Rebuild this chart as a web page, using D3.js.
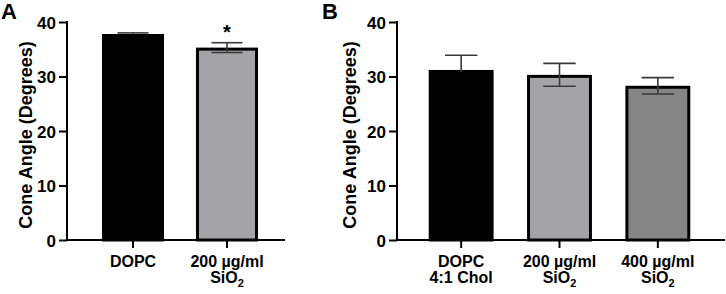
<!DOCTYPE html>
<html>
<head>
<meta charset="utf-8">
<script src="https://cdn.jsdelivr.net/npm/d3@7"></script>
<style>
  body { margin: 0; background: #fff; }
  svg text { font-family: "Liberation Sans", Arial, sans-serif; font-weight: bold; fill: #000; }
</style>
</head>
<body>
<svg id="chart" width="726" height="294"></svg>
<script>
// Panel A
const catsA = ["DOPC", "200 µg/ml SiO2"];
const labelsA = [["DOPC"], ["200 µg/ml", "SiO|2"]];
const valsA = [37.8, 35.3];
const errA = [0.2, 0.9];
const fillA = ["#000000", "#a4a3a8"];
const starsA = ["", "*"];

// Panel B
const catsB = ["DOPC 4:1 Chol", "200 µg/ml SiO2", "400 µg/ml SiO2"];
const labelsB = [["DOPC", "4:1 Chol"], ["200 µg/ml", "SiO|2"], ["400 µg/ml", "SiO|2"]];
const valsB = [31.2, 30.3, 28.3];
const errB = [2.7, 2.1, 1.5];
const fillB = ["#000000", "#a4a3a8", "#858585"];

const yTicks = [0, 10, 20, 30, 40];
const yTitle = "Cone Angle (Degrees)";

const svg = d3.select("#chart");

function drawPanel(cfg) {
  const g = svg.append("g");
  const y = d3.scaleLinear().domain([0, 40]).range([240, 22]);
  const x = d3.scaleBand().domain(cfg.cats).range(cfg.bandRange).paddingInner(0.34).paddingOuter(0.17);
  const bw = x.bandwidth();

  // bars
  g.selectAll("rect.bar").data(cfg.cats).join("rect")
    .attr("class", "bar")
    .attr("x", (d) => x(d) + 1.5)
    .attr("width", bw - 3)
    .attr("y", (d, i) => y(cfg.vals[i]) + 1.5)
    .attr("height", (d, i) => y(0) - y(cfg.vals[i]) - 1.5)
    .attr("fill", (d, i) => cfg.fills[i])
    .attr("stroke", "#000")
    .attr("stroke-width", 3);

  // error bars (inside a black bar they disappear, so draw them black there)
  const eg = g.selectAll("g.err").data(cfg.cats).join("g").attr("class", "err")
    .attr("stroke", (d, i) => cfg.fills[i] === "#000000" ? "#000" : "#3a3a3a")
    .attr("stroke-width", 1.6);
  eg.append("line")
    .attr("x1", (d) => x(d) + bw / 2).attr("x2", (d) => x(d) + bw / 2)
    .attr("y1", (d, i) => y(cfg.vals[i] - cfg.errs[i]))
    .attr("y2", (d, i) => y(cfg.vals[i] + cfg.errs[i]))
    .attr("stroke", "#3a3a3a");
  eg.append("line")
    .attr("x1", (d) => x(d) + bw / 4).attr("x2", (d) => x(d) + bw * 3 / 4)
    .attr("y1", (d, i) => y(cfg.vals[i] + cfg.errs[i]))
    .attr("y2", (d, i) => y(cfg.vals[i] + cfg.errs[i]))
    .attr("stroke", "#3a3a3a");
  eg.append("line")
    .attr("x1", (d) => x(d) + bw / 4).attr("x2", (d) => x(d) + bw * 3 / 4)
    .attr("y1", (d, i) => y(cfg.vals[i] - cfg.errs[i]))
    .attr("y2", (d, i) => y(cfg.vals[i] - cfg.errs[i]));
  // hide the stem below the top of black bars
  eg.filter((d, i) => cfg.fills[i] === "#000000").select("line")
    .attr("y1", (d) => y(cfg.vals[cfg.cats.indexOf(d)]) + 2);

  // significance marks
  if (cfg.stars) {
    g.selectAll("text.star").data(cfg.cats).join("text")
      .attr("class", "star")
      .attr("x", (d) => x(d) + bw / 2)
      .attr("y", (d, i) => y(cfg.vals[i] + cfg.errs[i]) - 4)
      .attr("text-anchor", "middle")
      .attr("font-size", 20)
      .text((d, i) => cfg.stars[i]);
  }

  // y axis
  const yAxis = d3.axisLeft(y).tickValues(yTicks).tickSize(8).tickPadding(3);
  const yg = g.append("g").attr("transform", `translate(${cfg.axisX},0)`).call(yAxis);
  yg.select(".domain").remove();
  yg.selectAll(".tick line").attr("stroke", "#000").attr("stroke-width", 2);
  yg.selectAll(".tick text").attr("font-size", 17).attr("font-family", null).attr("dy", "0.36em");
  g.append("line")
    .attr("x1", cfg.axisX).attr("x2", cfg.axisX)
    .attr("y1", y(40) - 1).attr("y2", y(0) + 1)
    .attr("stroke", "#000").attr("stroke-width", 2);

  // x axis
  const xAxis = d3.axisBottom(x).tickSize(8).tickFormat("");
  const xg = g.append("g").attr("transform", `translate(0,${y(0)})`).call(xAxis);
  xg.select(".domain").remove();
  xg.selectAll(".tick line").attr("stroke", "#000").attr("stroke-width", 2);
  g.append("line")
    .attr("x1", cfg.axisX - 1).attr("x2", cfg.xEnd)
    .attr("y1", y(0)).attr("y2", y(0))
    .attr("stroke", "#000").attr("stroke-width", 2);

  // x tick labels (multi-line, with subscript)
  cfg.cats.forEach((c, i) => {
    const t = g.append("text")
      .attr("x", x(c) + bw / 2)
      .attr("y", 267)
      .attr("text-anchor", "middle")
      .attr("font-size", 16);
    cfg.labels[i].forEach((line, j) => {
      const parts = line.split("|");
      t.append("tspan").attr("x", x(c) + bw / 2).attr("dy", j === 0 ? 0 : 16).text(parts[0]);
      if (parts[1]) {
        t.append("tspan").attr("font-size", 11).attr("dy", 4).text(parts[1]);
      }
    });
  });

  // y title
  g.append("text")
    .attr("transform", `translate(${cfg.titleX},${(y(0) + y(40)) / 2 + 4}) rotate(-90)`)
    .attr("text-anchor", "middle")
    .attr("font-size", 18)
    .text(yTitle);

  // panel letter
  g.append("text")
    .attr("x", cfg.letterX).attr("y", 19)
    .attr("font-size", 22)
    .text(cfg.letter);
}

drawPanel({
  cats: catsA, labels: labelsA, vals: valsA, errs: errA, fills: fillA, stars: starsA,
  bandRange: [86, 274], axisX: 67, xEnd: 285, titleX: 32, letterX: 1, letter: "A"
});

drawPanel({
  cats: catsB, labels: labelsB, vals: valsB, errs: errB, fills: fillB, stars: null,
  bandRange: [412, 707], axisX: 397, xEnd: 725, titleX: 356, letterX: 322, letter: "B"
});
</script>
</body>
</html>
